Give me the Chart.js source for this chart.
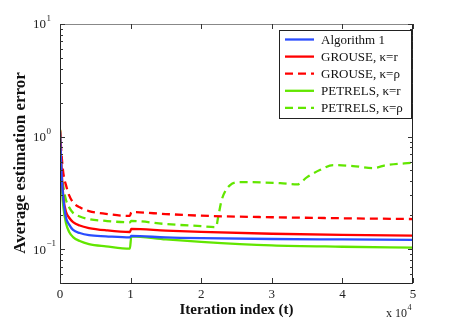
<!DOCTYPE html>
<html><head><meta charset="utf-8">
<script src="https://cdn.jsdelivr.net/npm/chart.js@4/dist/chart.umd.min.js"></script>
<style>html,body{margin:0;padding:0;background:#fff;}#wrap{width:457px;height:319px;}</style>
</head><body><div id="wrap"><canvas id="c" width="457" height="319"></canvas></div>
<script>
const seriesNames = ['Algorithm 1', 'GROUSE, \u03BA=r', 'GROUSE, \u03BA=\u03C1', 'PETRELS, \u03BA=r', 'PETRELS, \u03BA=\u03C1'];
const yTitle = 'Average estimation error';
const xTitle = 'Iteration index (t)';
const xTickValues = [0, 10000, 20000, 30000, 40000, 50000];
const yTickValues = [0.1, 1, 10];
const yTickExponents = ['\u22121', '0', '1'];

const commonT = [0, 150, 300, 500, 850, 1300, 1850, 2800, 4100, 6500, 9900, 10100, 15000, 20000, 30000, 40000, 50000];
const alg1Err = [1.1, 0.6, 0.38, 0.27, 0.19, 0.165, 0.148, 0.139, 0.133, 0.130, 0.127, 0.131, 0.127, 0.125, 0.123, 0.122, 0.121];
const grouseRErr = [1.12, 0.65, 0.42, 0.28, 0.215, 0.19, 0.174, 0.162, 0.154, 0.147, 0.142, 0.151, 0.146, 0.142, 0.137, 0.134, 0.132];
const grouseRhoErr = [1.15, 0.8, 0.6, 0.46, 0.37, 0.3, 0.26, 0.235, 0.218, 0.206, 0.197, 0.213, 0.205, 0.198, 0.192, 0.188, 0.185];
const petrelsRErr = [1.15, 0.55, 0.32, 0.23, 0.17, 0.142, 0.128, 0.118, 0.111, 0.106, 0.101, 0.130, 0.122, 0.116, 0.108, 0.105, 0.103];
const petrelsRhoT = [0, 150, 300, 500, 850, 1300, 1850, 2800, 4100, 6500, 9900, 10100, 15000, 20000, 22100, 22400, 22900, 24100, 25500, 31200, 33600, 35000, 36800, 38700, 41500, 44300, 46300, 50000];
const petrelsRhoErr = [1.15, 0.7, 0.45, 0.35, 0.273, 0.235, 0.21, 0.195, 0.185, 0.178, 0.173, 0.178, 0.167, 0.16, 0.157, 0.192, 0.273, 0.371, 0.394, 0.385, 0.376, 0.436, 0.504, 0.558, 0.547, 0.525, 0.558, 0.585];

const colors = ['#2a4dff', '#ff0000', '#ff0000', '#62e600', '#62e600'];
const dashes = [[], [], [8, 5], [], [8, 5]];
const series = [
  [commonT, alg1Err], [commonT, grouseRErr], [commonT, grouseRhoErr], [commonT, petrelsRErr], [petrelsRhoT, petrelsRhoErr]
];

const SERIF = '"Liberation Serif", "Times New Roman", serif';

const datasets = series.map((s, i) => ({
  label: seriesNames[i],
  data: s[0].map((t, j) => ({x: t, y: s[1][j]})),
  borderColor: colors[i],
  borderWidth: 2.3,
  borderDash: dashes[i],
  pointRadius: 0,
  fill: false,
  cubicInterpolationMode: 'monotone'
}));

const framePlugin = {
  id: 'frame',
  afterDatasetsDraw(chart) {
    const ctx = chart.ctx;
    const a = chart.chartArea;
    const xs = chart.scales.x, ys = chart.scales.y;
    ctx.save();
    // box
    ctx.lineWidth = 1;
    ctx.strokeStyle = '#888';
    ctx.beginPath();
    ctx.moveTo(a.left, a.top + 0.5); ctx.lineTo(a.right, a.top + 0.5);
    ctx.stroke();
    ctx.strokeStyle = '#222';
    ctx.beginPath();
    ctx.moveTo(a.left + 0.5, a.top); ctx.lineTo(a.left + 0.5, a.bottom + 0.5);
    ctx.lineTo(a.right - 0.5, a.bottom + 0.5); ctx.lineTo(a.right - 0.5, a.top);
    ctx.stroke();
    // x ticks
    ctx.strokeStyle = '#333';
    ctx.beginPath();
    xTickValues.forEach(v => {
      const px = Math.round(xs.getPixelForValue(v)) + 0.5;
      ctx.moveTo(px, a.bottom); ctx.lineTo(px, a.bottom - 5);
      ctx.moveTo(px, a.top); ctx.lineTo(px, a.top + 5);
    });
    // y ticks major and minor
    for (let e = -2; e <= 1; e++) {
      for (let m = 1; m <= 9; m++) {
        const v = m * Math.pow(10, e);
        if (v < ys.min || v > ys.max) continue;
        const py = Math.round(ys.getPixelForValue(v)) + 0.5;
        const len = m === 1 ? 5 : 3;
        ctx.moveTo(a.left, py); ctx.lineTo(a.left + len, py);
        ctx.moveTo(a.right, py); ctx.lineTo(a.right - len, py);
      }
    }
    ctx.stroke();

    // y tick labels 10^k
    ctx.fillStyle = '#222';
    ctx.textBaseline = 'middle';
    yTickValues.forEach((v, i) => {
      const py = ys.getPixelForValue(v);
      ctx.font = '13px ' + SERIF;
      ctx.textAlign = 'right';
      ctx.fillText('10', 46, py + 1);
      ctx.font = '9px ' + SERIF;
      ctx.textAlign = 'left';
      ctx.fillText(yTickExponents[i], 46.5, py - 5);
    });

    // legend
    const lx = 279, ly = 30, lw = 132, lh = 88;
    ctx.fillStyle = '#fff';
    ctx.fillRect(lx, ly, lw, lh);
    ctx.strokeStyle = '#222';
    ctx.lineWidth = 1;
    ctx.strokeRect(lx + 0.5, ly + 0.5, lw, lh);
    ctx.font = '13px ' + SERIF;
    ctx.textBaseline = 'middle';
    ctx.textAlign = 'left';
    chart.data.datasets.forEach((d, i) => {
      const cy = 39.5 + i * 17.1;
      ctx.strokeStyle = d.borderColor;
      ctx.lineWidth = 2.3;
      ctx.setLineDash(d.borderDash || []);
      ctx.beginPath();
      ctx.moveTo(285, cy); ctx.lineTo(314, cy);
      ctx.stroke();
      ctx.setLineDash([]);
      ctx.fillStyle = '#111';
      ctx.fillText(d.label, 321, cy + 1);
    });

    // x 10^4
    ctx.fillStyle = '#222';
    ctx.textBaseline = 'alphabetic';
    ctx.font = '12px ' + SERIF;
    ctx.fillText('x 10', 386, 317);
    const w = ctx.measureText('x 10').width;
    ctx.font = '8px ' + SERIF;
    ctx.fillText('4', 386 + w + 0.5, 310);

    // y title
    ctx.translate(21, 163);
    ctx.rotate(-Math.PI / 2);
    ctx.font = 'bold 17px ' + SERIF;
    ctx.textAlign = 'center';
    ctx.textBaseline = 'middle';
    ctx.fillStyle = '#111';
    ctx.fillText(yTitle, 0, 0);
    ctx.restore();
  }
};

new Chart(document.getElementById('c'), {
  type: 'line',
  data: {datasets},
  options: {
    responsive: false,
    animation: false,
    devicePixelRatio: 1,
    layout: {padding: {left: 0, right: 44, top: 24, bottom: 0}},
    plugins: {legend: {display: false}, tooltip: {enabled: false}},
    scales: {
      x: {
        type: 'linear', min: 0, max: 50000,
        grid: {display: false, drawTicks: false}, border: {display: false},
        afterBuildTicks(s) { s.ticks = xTickValues.map(v => ({value: v})); },
        afterFit(s) { s.height = 36; },
        ticks: {
          callback: v => String(v / 10000),
          font: {family: SERIF, size: 13}, color: '#222', padding: 4, maxRotation: 0
        },
        title: {display: true, text: xTitle, font: {family: SERIF, size: 15, weight: 'bold'}, color: '#111', padding: {top: 0, bottom: 0}}
      },
      y: {
        type: 'logarithmic', min: 0.05, max: 10,
        grid: {display: false, drawTicks: false}, border: {display: false},
        afterBuildTicks(s) { s.ticks = yTickValues.map(v => ({value: v})); },
        afterFit(s) { s.width = 60; },
        ticks: {display: false}
      }
    }
  },
  plugins: [framePlugin]
});
</script></body></html>
